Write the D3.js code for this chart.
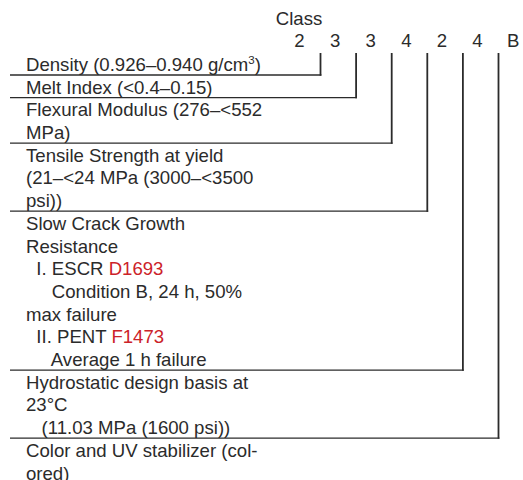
<!DOCTYPE html>
<html>
<head>
<meta charset="utf-8">
<script src="https://cdn.jsdelivr.net/npm/d3@7"></script>
<style>
  body { margin: 0; background: #fff; }
  text { font-family: "Liberation Sans", Arial, Helvetica, sans-serif; white-space: pre; }
</style>
</head>
<body>
<svg id="drawing_region"></svg>
<script>
// cell class code, one character per property
const codes = ['2', '3', '3', '4', '2', '4', 'B']

// property descriptions, one array of text lines per property
// a line is a string, or {text, ref} where ref is an ASTM standard number,
// or {text, sup, after} for a superscript
const properties = [
    [{text: 'Density (0.926\u20130.940 g/cm', sup: '3', after: ')'}],
    ['Melt Index (<0.4\u20130.15)'],
    ['Flexural Modulus (276\u2013<552', 'MPa)'],
    ['Tensile Strength at yield', '(21\u2013<24 MPa (3000\u2013<3500', 'psi))'],
    ['Slow Crack Growth', 'Resistance',
        {text: '  I. ESCR ', ref: 'D1693'},
        '     Condition B, 24 h, 50%',
        'max failure',
        {text: '  II. PENT ', ref: 'F1473'},
        '     Average 1 h failure'],
    ['Hydrostatic design basis at', '23\u00b0C', '   (11.03 MPa (1600 psi))'],
    ['Color and UV stabilizer (col-', 'ored)']
]

const headerLabel = 'Class'

class ClassDiagram {
    constructor(config) {
        this.config = {
            parent: config.parent,
            width: config.width || 523,
            height: config.height || 480,
            lineHeight: config.lineHeight || 22.7,
            top: config.top || 52.3,
            left: config.left || 10,
            textX: config.textX || 26,
            fontSize: config.fontSize || 18.6,
            ink: config.ink || '#2b2b2b',
            red: config.red || '#cc2229'
        }
        this.init()
    }

    init() {
        let self = this
        self.svg = d3.select(self.config.parent)
            .attr('width', self.config.width)
            .attr('height', self.config.height)

        // cumulative line counts -> row boundaries
        self.starts = []
        let n = 0
        properties.forEach(p => { self.starts.push(n); n += p.length })
        self.total = n

        self.yscale = d3.scaleLinear()
            .domain([0, self.total])
            .range([self.config.top, self.config.top + self.total * self.config.lineHeight])

        self.xscale = d3.scalePoint()
            .domain(d3.range(codes.length))
            .range([299.5, 299.5 + 35.6 * (codes.length - 1)])
    }

    render() {
        let self = this
        const c = self.config
        const lineOffset = 21

        // header
        self.svg.append('text')
            .attr('x', self.xscale(0) - 0.5)
            .attr('y', 24.5)
            .attr('text-anchor', 'middle')
            .attr('font-size', c.fontSize)
            .attr('fill', c.ink)
            .text(headerLabel)

        self.svg.selectAll('.code').data(codes).enter()
            .append('text')
            .attr('class', 'code')
            .attr('x', (d, i) => self.xscale(i))
            .attr('y', 46.7)
            .attr('text-anchor', 'middle')
            .attr('font-size', c.fontSize)
            .attr('fill', c.ink)
            .text(d => d)

        // property text
        properties.forEach((lines, pi) => {
            lines.forEach((ln, li) => {
                const t = self.svg.append('text')
                    .attr('x', c.textX)
                    .attr('y', self.yscale(self.starts[pi] + li) + 18.6)
                    .attr('font-size', c.fontSize)
                    .attr('fill', c.ink)
                if (typeof ln === 'string') {
                    t.text(ln)
                } else if (ln.sup) {
                    t.append('tspan').text(ln.text)
                    t.append('tspan').attr('dy', -6.5).attr('font-size', c.fontSize * 0.62).text(ln.sup)
                    t.append('tspan').attr('dy', 6.5).text(ln.after)
                } else {
                    t.append('tspan').text(ln.text)
                    t.append('tspan').attr('fill', c.red).text(ln.ref)
                }
            })
        })

        // leader lines: one for each property that has a class digit column line
        const leaders = properties.slice(0, codes.length - 1)
        leaders.forEach((lines, pi) => {
            const y = self.yscale(self.starts[pi] + lines.length)
            const x = self.xscale(pi) + lineOffset
            self.svg.append('line')
                .attr('x1', c.left).attr('x2', x + 0.9)
                .attr('y1', y).attr('y2', y)
                .attr('stroke', c.ink)
                .attr('stroke-width', 1.3)
            self.svg.append('line')
                .attr('x1', x).attr('x2', x)
                .attr('y1', 53).attr('y2', y + 0.65)
                .attr('stroke', c.ink)
                .attr('stroke-width', 1.8)
        })
    }
}

const diagram = new ClassDiagram({parent: '#drawing_region', width: 523, height: 480})
diagram.render()
</script>
</body>
</html>
